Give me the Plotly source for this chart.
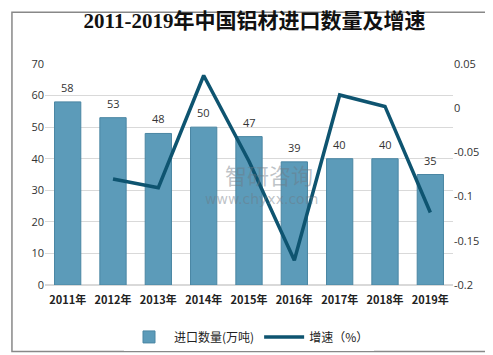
import plotly.graph_objects as go

years = ["2011年", "2012年", "2013年", "2014年", "2015年", "2016年", "2017年", "2018年", "2019年"]
volume = [58, 53, 48, 50, 47, 39, 40, 40, 35]
growth = [None, -0.08, -0.09, 0.037, -0.06, -0.172, 0.015, 0.002, -0.118]
left_ticks = [0, 10, 20, 30, 40, 50, 60, 70]
right_ticks = [-0.2, -0.15, -0.1, -0.05, 0, 0.05]
right_labels = ["-0.2", "-0.15", "-0.1", "-0.05", "0", "0.05"]

fig = go.Figure()
fig.add_trace(go.Bar(
    x=years, y=volume, name="进口数量(万吨)",
    marker=dict(color="#5c9bb9", line=dict(color="#4a86a3", width=1)),
    width=0.58,
))
fig.add_trace(go.Scatter(
    x=years, y=growth, name="增速（%）", yaxis="y2", mode="lines",
    line=dict(color="#0e5470", width=3.5),
))

annotations = [
    dict(x=yr, y=v, xref="x", yref="y", text=str(v), showarrow=False, yanchor="bottom", yshift=5,
         font=dict(size=11, color="#333333", family="Open Sans, sans-serif"))
    for yr, v in zip(years, volume)
]
annotations += [
    dict(text="智研咨询", x=0.55, y=0.502, xref="paper", yref="paper", showarrow=False, borderpad=0,
         font=dict(size=22, color="rgba(110,120,130,0.45)", family="Noto Sans CJK SC")),
    dict(text="www.chyxx.com", x=0.53, y=0.39, xref="paper", yref="paper", showarrow=False, borderpad=0,
         font=dict(size=14, color="rgba(110,120,130,0.45)", family="DejaVu Sans")),
]

fig.update_layout(
    width=493, height=355,
    margin=dict(l=37, r=48, t=56, b=73),
    paper_bgcolor="white", plot_bgcolor="white",
    title=dict(text="2011-2019年中国铝材进口数量及增速", x=0.5, xanchor="center", y=0.965, yanchor="middle",
               font=dict(size=21, family="Liberation Serif, Noto Sans CJK SC", color="#111111", weight=600)),
    xaxis=dict(tickfont=dict(size=11, color="#222222", family="Noto Sans CJK SC", weight="bold"),
               showline=False, ticks="", ticklabelstandoff=7),
    yaxis=dict(range=[0, 70], tickvals=left_ticks, showgrid=True, gridcolor="#d9d9d9",
               tickfont=dict(size=11, color="#333333"), zeroline=True, zerolinecolor="#d9d9d9", showline=False),
    yaxis2=dict(range=[-0.2, 0.05], tickvals=right_ticks, ticktext=right_labels, overlaying="y", side="right",
                showgrid=False, zeroline=False, tickfont=dict(size=11, color="#333333")),
    bargap=0.42,
    legend=dict(orientation="h", x=0.5, xanchor="center", y=-0.235, yanchor="middle",
                font=dict(size=12, color="#222222", family="Noto Sans CJK SC"), itemwidth=40,
                traceorder="normal"),
    showlegend=True,
    shapes=[dict(type="rect", xref="paper", yref="paper", x0=-0.081, x1=1.108, y0=-0.301, y1=1.234,
                 line=dict(color="#888888", width=1.5), fillcolor="rgba(0,0,0,0)", layer="below")],
    annotations=annotations,
)
fig.write_html("out.html")
